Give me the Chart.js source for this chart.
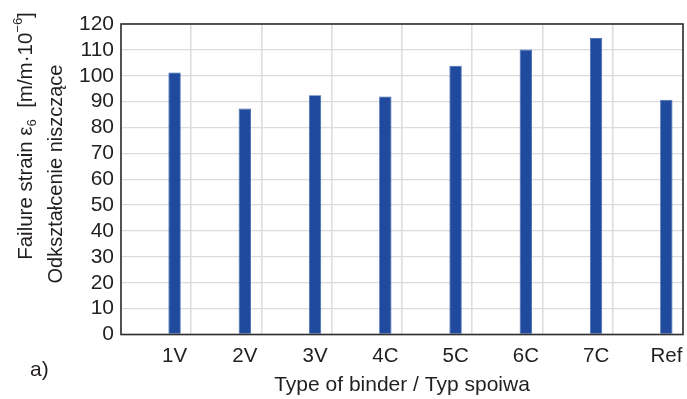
<!DOCTYPE html>
<html>
<head>
<meta charset="utf-8">
<script src="https://cdn.jsdelivr.net/npm/chart.js@4/dist/chart.umd.min.js"></script>
<style>
  html, body { margin: 0; padding: 0; background: #ffffff; }
  #wrap { width: 687px; height: 399px; position: relative; }
</style>
</head>
<body>
<div id="wrap"><canvas id="chart" width="687" height="399"></canvas></div>
<script>
// Binder types along the x axis
const binders = ['1V', '2V', '3V', '4C', '5C', '6C', '7C', 'Ref'];
// Failure strain ε6 for each binder [m/m·10^-6]
const failureStrain = [101.3, 87.3, 92.5, 92.0, 103.9, 110.1, 114.6, 90.7];
// Empty companion slot of the clustered layout (bars sit in the right half of each group)
const companionSlot = [null, null, null, null, null, null, null, null];
// Value axis range
const yMin = 0, yMax = 120, yStep = 10;

const FONT = '"Liberation Sans", Arial, Helvetica, sans-serif';
const TEXT = '#231f20';

// Frame around the plot area plus the axis titles and panel letter
const decorations = {
  id: 'decorations',
  afterDraw(chart) {
    const { ctx, chartArea: a } = chart;
    ctx.save();
    ctx.strokeStyle = '#2e2e2e';
    ctx.lineWidth = 1.6;
    ctx.strokeRect(a.left, a.top, a.right - a.left, a.bottom - a.top);

    ctx.fillStyle = TEXT;
    ctx.textBaseline = 'middle';

    // x-axis title
    ctx.font = '21px ' + FONT;
    ctx.textAlign = 'center';
    ctx.fillText('Type of binder / Typ spoiwa', (a.left + a.right) / 2, 385);

    // panel letter
    ctx.textAlign = 'left';
    ctx.font = '21px ' + FONT;
    ctx.fillText('a)', 30, 370);

    // y-axis title, two rotated lines
    const big = '20.5px ' + FONT;
    const small = '13px ' + FONT;
    const parts = [
      { t: 'Failure strain \u03B5', f: big, dy: 0 },
      { t: '6', f: small, dy: 6 },
      { t: '  [m/m\u00B710', f: big, dy: 0 },
      { t: '\u22126', f: small, dy: -8 },
      { t: ']', f: big, dy: 0 }
    ];
    let total = 0;
    parts.forEach(p => { ctx.font = p.f; p.w = ctx.measureText(p.t).width; total += p.w; });

    ctx.save();
    ctx.translate(26, 136);
    ctx.rotate(-Math.PI / 2);
    let x = -total / 2;
    ctx.textAlign = 'left';
    parts.forEach(p => {
      ctx.font = p.f;
      ctx.fillText(p.t, x, p.dy);
      x += p.w;
    });
    ctx.restore();

    ctx.save();
    ctx.translate(56, 174);
    ctx.rotate(-Math.PI / 2);
    ctx.font = '20px ' + FONT;
    ctx.textAlign = 'center';
    ctx.fillText('Odkształcenie niszczące', 0, 0);
    ctx.restore();

    ctx.restore();
  }
};

new Chart(document.getElementById('chart'), {
  type: 'bar',
  data: {
    labels: binders,
    datasets: [
      {
        label: 'companion',
        data: companionSlot,
        backgroundColor: 'rgba(0,0,0,0)',
        categoryPercentage: 1.05,
        barPercentage: 0.335
      },
      {
        label: 'Failure strain',
        data: failureStrain,
        backgroundColor: '#1f4a9e',
        borderColor: '#3562ae',
        borderWidth: 0.8,
        borderSkipped: 'bottom',
        categoryPercentage: 1.05,
        barPercentage: 0.335
      }
    ]
  },
  options: {
    responsive: false,
    animation: false,
    devicePixelRatio: 1,
    layout: { padding: { top: 24, right: 4, bottom: 0, left: 0 } },
    plugins: {
      legend: { display: false },
      tooltip: { enabled: false }
    },
    scales: {
      x: {
        offset: true,
        grid: { offset: true, color: '#dedede', lineWidth: 1.6, drawTicks: false },
        border: { display: false },
        ticks: {
          color: TEXT,
          font: { family: FONT, size: 20.5 },
          padding: 10,
          labelOffset: 18.5,
          maxRotation: 0,
          autoSkip: false
        },
        afterFit(scale) { scale.height = 64.5; }
      },
      y: {
        min: yMin,
        max: yMax,
        grid: { color: '#dcdcdc', lineWidth: 1.3, drawTicks: false },
        border: { display: false },
        ticks: {
          stepSize: yStep,
          maxTicksLimit: 20,
          autoSkip: false,
          color: TEXT,
          font: { family: FONT, size: 21, lineHeight: 1 },
          padding: 7
        },
        afterFit(scale) { scale.width = 121; }
      }
    }
  },
  plugins: [decorations]
});
</script>
</body>
</html>
